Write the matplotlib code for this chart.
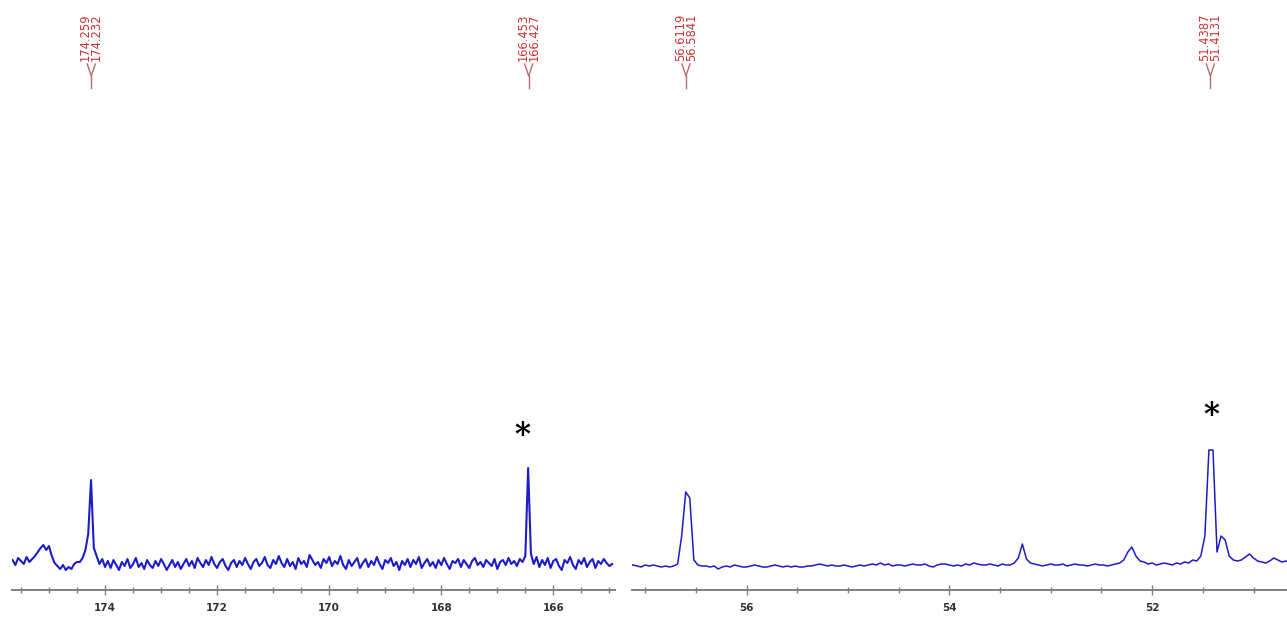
import matplotlib
matplotlib.use('Agg')
import matplotlib.pyplot as plt
import matplotlib.ticker as ticker
import matplotlib.transforms as mtransforms
import numpy as np

# ---- left window: carbonyl region (ppm grid, 0.05 ppm step)
ppm_left = np.linspace(175.65, 164.95, 215)
int_left = [2, -3, 4, 1, -2, 5, 0, 3, 6, 10,
            14, 17, 12, 16, 6, -1, -4, -7, -3, -8,
            -5, -7, -2, 0, 0, 4, 12, 28, 82, 14,
            6, -2, 3, -5, 1, -6, 2, -3, -8, 0,
            -4, 3, -6, -2, 4, -5, -1, -7, 2, -3,
            -6, 1, -4, 3, -2, -8, -3, 2, -5, 0,
            -7, -2, 3, -4, 1, -6, 4, -1, -5, 2,
            -3, 5, -2, -6, 0, 3, -4, -8, -1, 2,
            -5, 1, -3, 4, -2, -7, 0, 3, -4, -1,
            5, -3, -6, 2, -2, 6, -1, -5, 3, -4,
            0, -7, 4, -2, 1, -5, 7, 2, -3, 0,
            -6, 3, -1, 5, -4, 1, -2, 6, -3, -7,
            2, -4, 0, 4, -6, -1, 3, -5, 1, -3,
            5, -2, -7, 2, -1, 4, -4, 0, -8, 1,
            -3, 3, -5, 2, -2, 5, -6, -1, 3, -4,
            0, -6, 2, -3, 4, -2, -7, 1, -1, 3,
            -5, 2, -2, -6, 1, 4, -3, 0, -5, 2,
            -1, -4, 3, -7, 0, 2, -3, 4, -2, 1,
            -4, 3, 0, 6, 94, 8, -2, 5, -5, 2,
            -3, 4, -6, 1, 3, -4, -8, 2, -1, 5,
            -3, -7, 2, -2, 4, -5, 0, 3, -6, 1,
            -2, 3, -1, -4, -2]

# ---- right window: aliphatic region (ppm grid, 0.04 ppm step)
ppm_right = np.linspace(57.16, 50.64, 164)
int_right = [0, 1, 0, -1, 1, 0, 1, 0, -1, 0,
             -1, 0, 2, 30, 74, 68, 6, 1, 0, 0,
             -1, 0, -3, -1, 0, -1, 1, 0, -1, -1,
             0, 1, 0, -1, -1, 0, 1, 0, -1, 0,
             -1, 0, -1, -1, 0, 0, 1, 2, 1, 0,
             1, 0, 0, 1, 0, -1, 0, 1, 0, 1,
             2, 1, 3, 1, 2, 0, 1, 1, 0, 1,
             2, 1, 1, 2, 0, -1, 1, 2, 2, 1,
             0, 1, 0, 2, 1, 3, 2, 1, 1, 2,
             1, 0, 2, 1, 1, 3, 8, 22, 7, 3,
             2, 1, 0, 1, 2, 1, 1, 2, 0, 1,
             2, 1, 1, 0, 1, 2, 1, 1, 0, 1,
             2, 3, 6, 14, 19, 10, 5, 4, 2, 3,
             1, 2, 3, 2, 1, 3, 2, 4, 3, 6,
             5, 10, 30, 116, 116, 14, 30, 26, 10, 6,
             5, 6, 9, 12, 8, 5, 4, 3, 5, 8,
             6, 4, 5, 3]

# peak picking labels
picks_left = [("174.259", "174.232"), ("166.453", "166.427")]
picks_right = [("56.6119", "56.5841"), ("51.4387", "51.4131")]
star_left = (166.55, 127)
star_right = (51.42, 151)

W, H = 1287, 617
fig = plt.figure(figsize=(W / 100, H / 100), dpi=100)
ax1 = fig.add_axes([12 / W, (H - 590) / H, (615 - 12) / W, 590 / H])
ax2 = fig.add_axes([632 / W, (H - 590) / H, (1287 - 632) / W, 590 / H])

blue = '#1c1cc8'
red = '#c83232'

def style(ax, xlim, ylim):
    ax.set_xlim(*xlim)
    ax.set_ylim(*ylim)
    for s in ['top', 'left', 'right']:
        ax.spines[s].set_visible(False)
    ax.spines['bottom'].set_color('#808080')
    ax.spines['bottom'].set_linewidth(1.4)
    ax.yaxis.set_major_locator(ticker.NullLocator())
    ax.xaxis.set_major_locator(ticker.MultipleLocator(2))
    ax.xaxis.set_minor_locator(ticker.MultipleLocator(0.5))
    ax.tick_params(axis='x', which='both', direction='inout', color='#808080',
                   width=1.0, labelsize=7.5, labelcolor='#333333', pad=6)
    ax.tick_params(axis='x', which='major', length=7)
    ax.tick_params(axis='x', which='minor', length=5)
    for lab in ax.get_xticklabels():
        lab.set_fontweight('bold')
    ax.patch.set_alpha(0)

def pick_label(ax, ppm, texts, px_per_ppm):
    tr = mtransforms.blended_transform_factory(ax.transData, ax.transAxes)
    yb = 1 - 61 / 590
    ax.text(ppm, yb, texts[0] + "\n" + texts[1], rotation=90, ha='center', va='bottom',
            fontsize=8.3, color=red, linespacing=0.8, transform=tr)
    d = 4 / px_per_ppm
    y0 = 1 - 64 / 590
    y1 = 1 - 76 / 590
    y2 = 1 - 88 / 590
    ax.plot([ppm + d, ppm, ppm - d], [y0, y1, y0], color='#b86a6a', lw=1, transform=tr)
    ax.plot([ppm, ppm], [y1, y2], color='#b86a6a', lw=1, transform=tr)

# left panel
ax1.plot(ppm_left, int_left, color=blue, lw=1.5)
style(ax1, (175.66, 164.9), (-28, 562))
for p in picks_left:
    pick_label(ax1, (float(p[0]) + float(p[1])) / 2, p, 56.0)
ax1.text(star_left[0], star_left[1], '*', ha='center', va='center', fontsize=22,
         fontweight='bold', family='DejaVu Serif', color='black')

# right panel
ax2.plot(ppm_right, int_right, color=blue, lw=1.1)
style(ax2, (57.13, 50.67), (-24, 566))
for p in picks_right:
    pick_label(ax2, (float(p[0]) + float(p[1])) / 2, p, 101.5)
ax2.text(star_right[0], star_right[1], '*', ha='center', va='center', fontsize=22,
         fontweight='bold', family='DejaVu Serif', color='black')

fig.savefig('out.png', dpi=100)
